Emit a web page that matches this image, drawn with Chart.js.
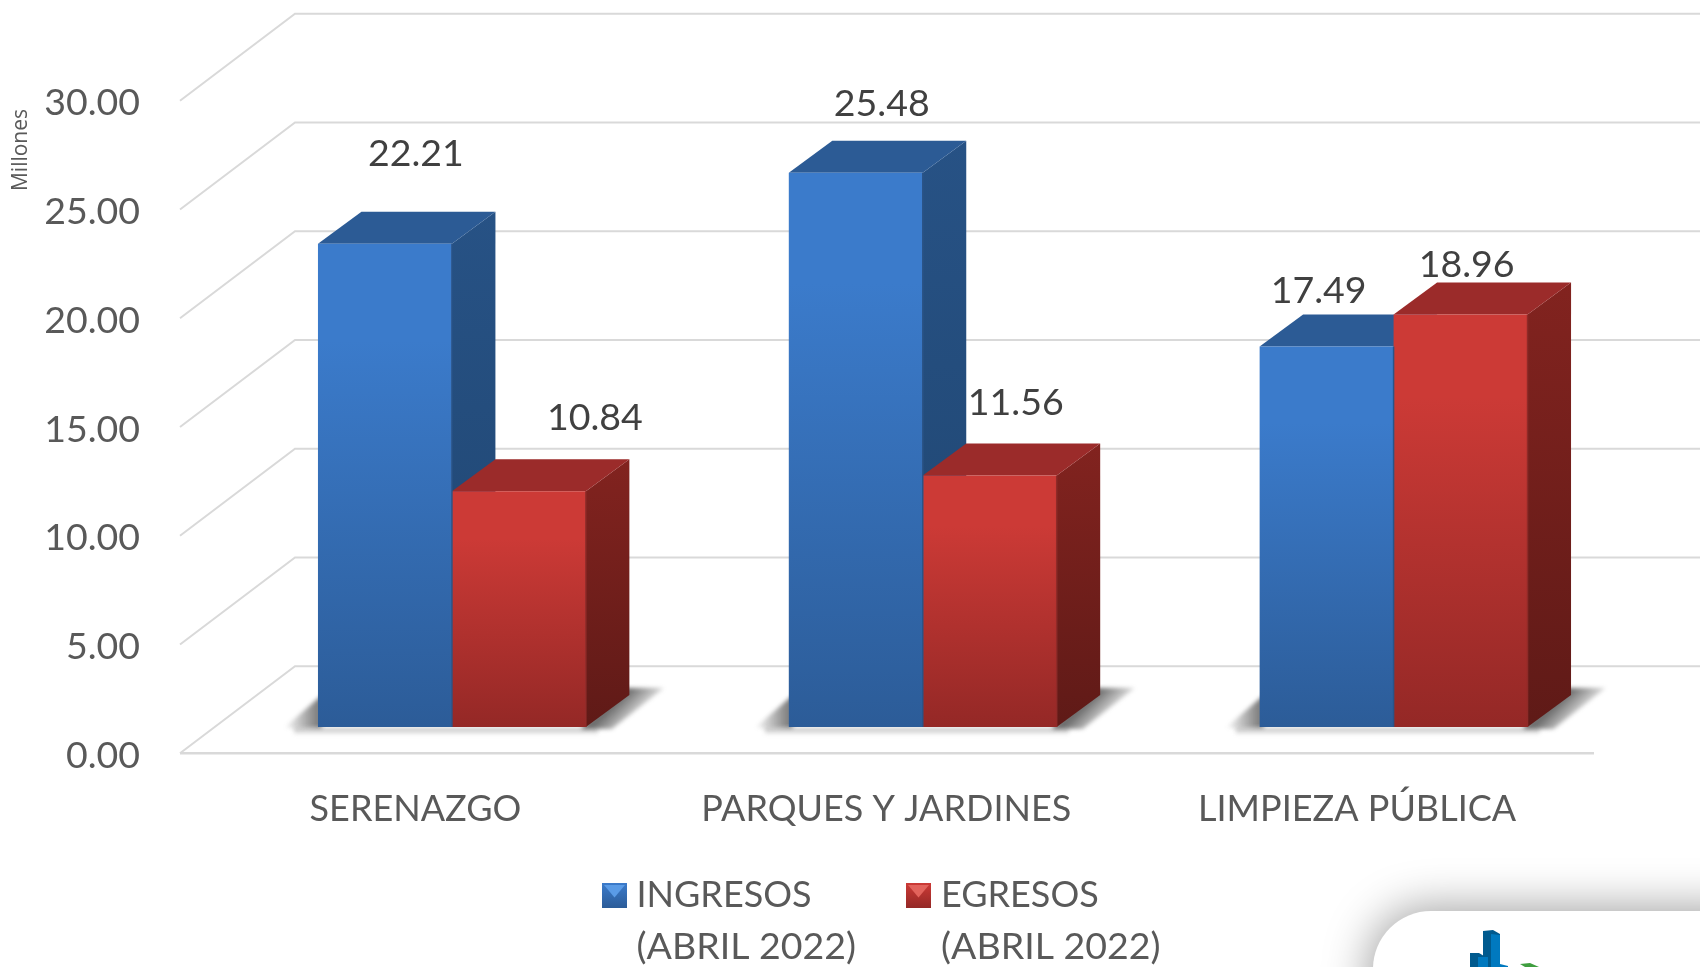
<!DOCTYPE html>
<html>
<head>
<meta charset="utf-8">
<style>html,body{margin:0;padding:0;background:#fff;overflow:hidden}canvas{display:block}</style>
<script src="https://cdn.jsdelivr.net/npm/chart.js@4"></script>
</head>
<body>
<canvas id="c" width="1700" height="967"></canvas>
<script>
const categories = ['SERENAZGO', 'PARQUES Y JARDINES', 'LIMPIEZA PÚBLICA'];
const ingresos = [22.21, 25.48, 17.49];
const egresos = [10.84, 11.56, 18.96];
const seriesNames = ['INGRESOS', 'EGRESOS'];
const seriesPeriod = '(ABRIL 2022)';
const axisUnit = 'Millones';

const FONT = 'Lato';
const TEXT = '#595959';
const BAR_SHIFT = {x: 36.5, y: -26.3};   // bars stand part-way into the floor
const BAR_DEPTH = {x: 43.5, y: -32};     // extrusion of each bar
const WALL = {x: 115, y: -87};           // floor depth up to the back wall
const labelOffsets = [
  [[31, -90], [26, -69], [-8, -56]],
  [[76, -73], [26, -73], [6, -50]]
];
const palette = [
  {top: '#3B7BCB', bottom: '#2C5C98', cap: '#2C5B95', sideTop: '#275285', sideBottom: '#1F4570', edge: '#2A5488'},
  {top: '#CC3A36', bottom: '#942826', cap: '#9B2B2A', sideTop: '#82231F', sideBottom: '#5F1A17', edge: '#8F2A28'}
];

function frontFill(i) {
  return function (ctx) {
    const chart = ctx.chart;
    if (!chart.chartArea || ctx.parsed === undefined) return palette[i].top;
    const y = chart.scales.y;
    const g = chart.ctx.createLinearGradient(0, y.getPixelForValue(ctx.parsed.y), 0, y.getPixelForValue(0));
    g.addColorStop(0, palette[i].top);
    g.addColorStop(0.2, palette[i].top);
    g.addColorStop(1, palette[i].bottom);
    return g;
  };
}

function poly(c, pts) {
  c.beginPath();
  pts.forEach((p, i) => i ? c.lineTo(p[0], p[1]) : c.moveTo(p[0], p[1]));
  c.closePath();
}

const scene = {
  id: 'scene',
  beforeDraw(chart) {
    const c = chart.ctx;
    // logo card
    c.save();
    c.shadowColor = 'rgba(0,0,0,0.38)';
    c.shadowBlur = 46;
    c.shadowOffsetX = -3;
    c.shadowOffsetY = -3;
    c.fillStyle = '#fff';
    c.beginPath();
    c.roundRect(1373, 911, 420, 160, 58);
    c.fill();
    c.restore();
    c.fillStyle = '#005A8E';
    poly(c, [[1483, 931], [1493, 930], [1500, 934], [1500, 967], [1483, 967]]); c.fill();
    c.fillStyle = '#0079BF';
    poly(c, [[1491, 934], [1500, 935], [1500, 967], [1491, 967]]); c.fill();
    c.fillStyle = '#005A8E';
    poly(c, [[1470, 953], [1479, 953], [1484, 956], [1484, 967], [1470, 967]]); c.fill();
    c.fillStyle = '#0079BF';
    poly(c, [[1478, 957], [1488, 957], [1488, 967], [1478, 967]]); c.fill();
    poly(c, [[1500, 964], [1508, 966], [1508, 967], [1500, 967]]); c.fill();
    c.fillStyle = '#3F9E3F';
    poly(c, [[1520, 964], [1530, 963], [1539, 967], [1525, 967]]); c.fill();

    // walls, floor and grid from the value axis
    const y = chart.scales.y, a = chart.chartArea;
    c.save();
    c.strokeStyle = '#D9D9D9';
    c.lineWidth = 2;
    y.ticks.forEach(t => {
      const py = y.getPixelForValue(t.value);
      c.beginPath();
      c.moveTo(a.left, py);
      c.lineTo(a.left + WALL.x, py + WALL.y);
      c.lineTo(1700, py + WALL.y);
      c.stroke();
    });
    const p0 = y.getPixelForValue(0);
    c.beginPath();
    c.moveTo(a.left, p0);
    c.lineTo(1594, p0);
    c.lineWidth = 2.5;
    c.stroke();
    c.restore();
  },
  beforeDatasetsDraw(chart) {
    const c = chart.ctx;
    c.save();
    c.translate(BAR_SHIFT.x, BAR_SHIFT.y);
    // floor shadows
    const m0 = chart.getDatasetMeta(0).data, m1 = chart.getDatasetMeta(1).data;
    c.save();
    c.filter = 'blur(2px)';
    m0.forEach((b, i) => {
      const L = b.x - b.width / 2, r = m1[i], R = r.x + r.width / 2, B = b.base;
      let g = c.createLinearGradient(L, 0, L - 34, 0);
      g.addColorStop(0, 'rgba(70,70,70,0.7)');
      g.addColorStop(1, 'rgba(70,70,70,0)');
      c.fillStyle = g;
      poly(c, [[L + 4, B - 32], [L + 4, B + 1], [L - 34, B + 1]]);
      c.fill();
      g = c.createLinearGradient(0, B, 0, B + 8);
      g.addColorStop(0, 'rgba(90,90,90,0.5)');
      g.addColorStop(1, 'rgba(90,90,90,0)');
      c.fillStyle = g;
      c.fillRect(L - 24, B + 1, R - L + 36, 7);
      g = c.createLinearGradient(R + 22, B - 16, R + 44, B + 6);
      g.addColorStop(0, 'rgba(60,60,60,0.75)');
      g.addColorStop(1, 'rgba(60,60,60,0)');
      c.fillStyle = g;
      poly(c, [[R - 4, B], [R + 40, B - 39], [R + 78, B - 39], [R + 26, B + 2], [R - 4, B + 2]]);
      c.fill();
    });
    c.restore();
    // extrusions, left series first so the right series' front face covers them
    [0, 1].forEach(d => {
      const p = palette[d];
      chart.getDatasetMeta(d).data.forEach(b => {
        const L = b.x - b.width / 2, R = b.x + b.width / 2;
        const dx = BAR_DEPTH.x, dy = BAR_DEPTH.y;
        const g = c.createLinearGradient(0, b.y + dy, 0, b.base);
        g.addColorStop(0, p.sideTop);
        g.addColorStop(1, p.sideBottom);
        c.fillStyle = g;
        poly(c, [[R, b.y], [R + dx, b.y + dy], [R + dx, b.base + dy], [R, b.base]]);
        c.fill();
        c.fillStyle = p.cap;
        poly(c, [[L, b.y], [L + dx, b.y + dy], [R + dx, b.y + dy], [R, b.y]]);
        c.fill();
      });
    });
  },
  afterDatasetsDraw(chart) {
    const c = chart.ctx;
    // darker seam along the front-face edges
    [0, 1].forEach(d => {
      c.strokeStyle = palette[d].edge;
      c.lineWidth = 1.5;
      chart.getDatasetMeta(d).data.forEach(b => {
        const R = b.x + b.width / 2;
        c.beginPath();
        c.moveTo(R, b.y);
        c.lineTo(R, b.base);
        c.stroke();
      });
    });
    // value labels
    c.font = '37.5px ' + FONT;
    c.fillStyle = '#404040';
    c.textAlign = 'center';
    c.textBaseline = 'middle';
    [0, 1].forEach(d => {
      chart.getDatasetMeta(d).data.forEach((b, i) => {
        const o = labelOffsets[d][i];
        const v = chart.data.datasets[d].data[i];
        c.fillText(v.toFixed(2), b.x + o[0], b.y + o[1]);
      });
    });
    c.restore();
  },
  afterDraw(chart) {
    const c = chart.ctx;
    c.save();
    // axis unit
    c.save();
    c.translate(21, 150);
    c.rotate(-Math.PI / 2);
    c.font = '21px "Open Sans"';
    c.fillStyle = TEXT;
    c.textAlign = 'center';
    c.textBaseline = 'middle';
    c.fillText(axisUnit, 0, 0);
    c.restore();
    // legend
    const keyX = [602, 906], textX = [636.5, 941];
    seriesNames.forEach((name, i) => {
      const x = keyX[i], yy = 883, w = 25, h = 25, p = palette[i];
      const g = c.createLinearGradient(0, yy, 0, yy + h);
      g.addColorStop(0, p.top);
      g.addColorStop(1, p.bottom);
      c.fillStyle = g;
      c.fillRect(x, yy, w, h);
      c.fillStyle = i ? '#E2635C' : '#5A9BE6';
      poly(c, [[x + 2, yy + 2], [x + w - 2, yy + 2], [x + w / 2, yy + h / 2 + 2]]);
      c.fill();
      c.fillStyle = TEXT;
      c.textAlign = 'left';
      c.textBaseline = 'middle';
      c.font = '36px ' + FONT;
      c.fillText(name, textX[i], 895);
      c.font = '37.5px ' + FONT;
      c.fillText(seriesPeriod, textX[i], 947);
    });
    c.restore();
  }
};

new Chart(document.getElementById('c'), {
  type: 'bar',
  data: {
    labels: categories,
    datasets: [
      {label: seriesNames[0], data: ingresos, backgroundColor: frontFill(0), borderWidth: 0, clip: false},
      {label: seriesNames[1], data: egresos, backgroundColor: frontFill(1), borderWidth: 0, clip: false}
    ]
  },
  plugins: [scene],
  options: {
    responsive: false,
    animation: false,
    layout: {padding: {top: 100.7, right: 107.5, left: 0, bottom: 0}},
    datasets: {bar: {categoryPercentage: 0.569, barPercentage: 1}},
    plugins: {legend: {display: false}, title: {display: false}, tooltip: {enabled: false}},
    scales: {
      x: {
        grid: {display: false, drawTicks: false},
        border: {display: false},
        ticks: {font: {family: FONT, size: 36}, color: TEXT, padding: 34, maxRotation: 0, autoSkip: false},
        afterFit(s) { s.height = 213.7; }
      },
      y: {
        min: 0, max: 30,
        grid: {display: false, drawTicks: false},
        border: {display: false},
        ticks: {stepSize: 5, font: {family: FONT, size: 37.5}, color: TEXT, padding: 40, labelOffset: 2.5,
                callback: v => v.toFixed(2)},
        afterFit(s) { s.width = 180; }
      }
    }
  }
});
</script>
</body>
</html>
